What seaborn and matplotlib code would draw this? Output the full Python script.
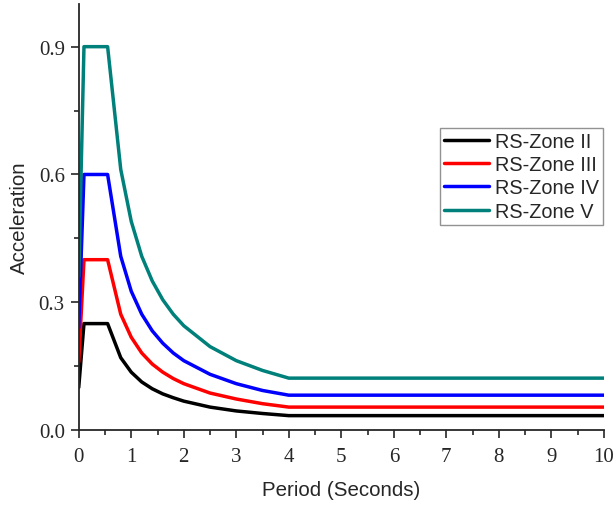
import pandas as pd
import matplotlib
matplotlib.use('Agg')
import matplotlib.pyplot as plt
import seaborn as sns
from matplotlib.ticker import MultipleLocator

# Periodai (s) ir spektriniai pagreiciai kiekvienai zonai
period = [0.0, 0.1, 0.55, 0.8, 1.0, 1.2, 1.4, 1.6, 1.8, 2.0, 2.5, 3.0, 3.5, 4.0, 10.0]
zone_ii = [0.10, 0.25, 0.25, 0.170, 0.136, 0.113, 0.097, 0.085, 0.076, 0.068, 0.054, 0.045, 0.039, 0.034, 0.034]
zone_iii = [0.16, 0.40, 0.40, 0.272, 0.218, 0.181, 0.155, 0.136, 0.121, 0.109, 0.087, 0.073, 0.062, 0.054, 0.054]
zone_iv = [0.24, 0.60, 0.60, 0.408, 0.326, 0.272, 0.233, 0.204, 0.181, 0.163, 0.131, 0.109, 0.093, 0.082, 0.082]
zone_v = [0.36, 0.90, 0.90, 0.612, 0.490, 0.408, 0.350, 0.306, 0.272, 0.245, 0.196, 0.163, 0.140, 0.122, 0.122]
labels = ['RS-Zone II', 'RS-Zone III', 'RS-Zone IV', 'RS-Zone V']
colors = ['black', '#ff0000', '#0000ff', '#00807a']

frames = []
for lab, vals in zip(labels, [zone_ii, zone_iii, zone_iv, zone_v]):
    frames.append(pd.DataFrame({'Period': period, 'Acceleration': vals, 'Zone': lab}))
df = pd.concat(frames, ignore_index=True)

sns.set_style('ticks')
fig = plt.figure(figsize=(6.15, 5.06), dpi=100)
ax = fig.add_axes([0.128, 0.148, 0.854, 0.842])

sns.lineplot(data=df, x='Period', y='Acceleration', hue='Zone', palette=colors,
             lw=2.5, ax=ax, sort=False)

ax.set_xlim(0, 10)
ax.set_ylim(0, 1.0)
ax.tick_params(which='major', direction='out', length=6, width=1.2, labelsize=15)
ax.tick_params(which='minor', direction='out', length=3.5, width=1.2)
ax.tick_params(axis='x', pad=6)
ax.tick_params(axis='y', pad=4)
ax.set_xticks([0, 1, 2, 3, 4, 5, 6, 7, 8, 9, 10])
ax.set_xticklabels(['0', '1', '2', '3', '4', '5', '6', '7', '8', '9', '10'], fontfamily='Liberation Serif')
ax.set_yticks([0.0, 0.3, 0.6, 0.9])
ax.set_yticklabels(['0.0', '0.3', '0.6', '0.9'], fontfamily='Liberation Serif')
ax.xaxis.set_minor_locator(MultipleLocator(0.5))
ax.yaxis.set_minor_locator(MultipleLocator(0.15))

ax.set_xlabel('Period (Seconds)', fontsize=14.8, fontfamily='Liberation Sans', labelpad=10)
ax.set_ylabel('Acceleration', fontsize=14.8, fontfamily='Liberation Sans', labelpad=7)
for s in ['left', 'bottom']:
    ax.spines[s].set_linewidth(1.3)
sns.despine(ax=ax)

leg = ax.legend(loc='upper left', bbox_to_anchor=(0.687, 0.71), frameon=True, fancybox=False,
                prop={'family': 'Liberation Sans', 'size': 14.3}, handlelength=2.3,
                handletextpad=0.3, borderpad=0.2, labelspacing=0.22, borderaxespad=0)
leg.get_frame().set_edgecolor('#777777')
leg.get_frame().set_linewidth(1.0)

plt.savefig('out.png', dpi=100)
